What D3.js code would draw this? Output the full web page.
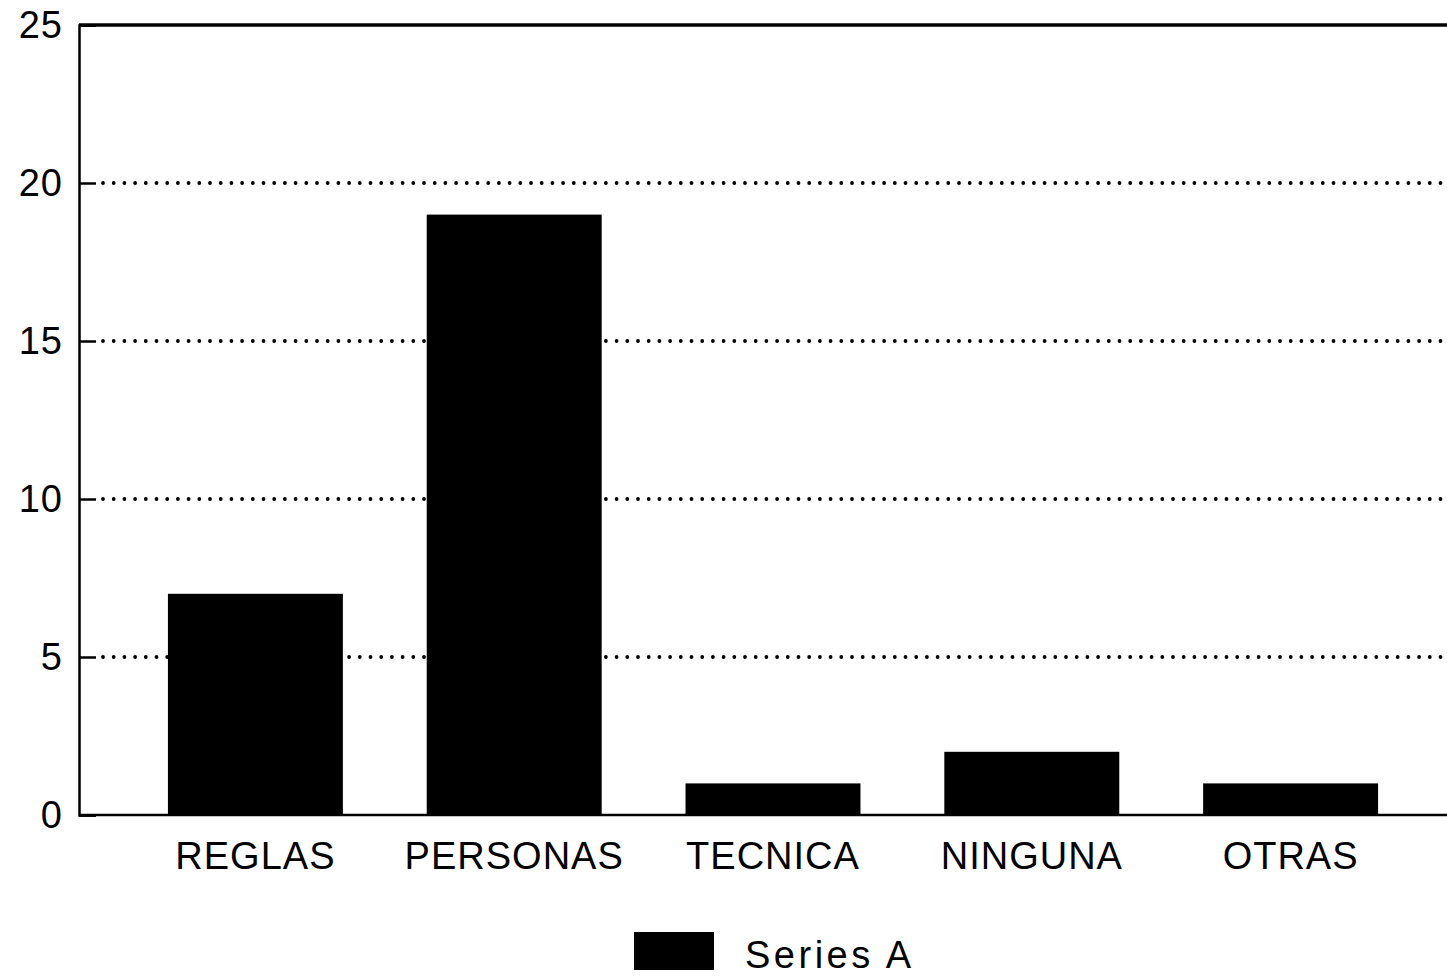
<!DOCTYPE html>
<meta charset="utf-8">
<html>
<head>
<title>Series A</title>
<style>
body { margin: 0; background: #fff; }
svg { display: block; }
.axis text { font-family: "Liberation Sans", Arial, sans-serif; font-size: 38px; fill: #000; letter-spacing: 1px; }
.axis path, .axis line { stroke: #000; }
.grid line { stroke: #000; stroke-width: 3.8; stroke-linecap: round; stroke-dasharray: 0,10.7; }
.legend text { font-family: "Liberation Sans", Arial, sans-serif; font-size: 38px; letter-spacing: 3.5px; }
</style>
</head>
<body>
<svg width="1447" height="977"></svg>
<script src="https://d3js.org/d3.v7.min.js"></script>
<script>

// data
var categories = ["REGLAS", "PERSONAS", "TECNICA", "NINGUNA", "OTRAS"];
var seriesA = [7, 19, 1, 2, 1];
var yTicks = [0, 5, 10, 15, 20, 25];
var seriesName = "Series A";

var svg = d3.select("svg"),
    plotLeft = 79, plotTop = 25, plotBottom = 815, plotRight = 1447;

var y = d3.scaleLinear().domain([0, 25]).range([plotBottom, plotTop]);

var x = d3.scaleBand()
    .domain(categories)
    .range([126, 1420])
    .paddingInner(0.324)
    .paddingOuter(0.162);

// dotted grid, starting past the inner tick
svg.append("g")
    .attr("class", "grid")
  .selectAll("line")
  .data(yTicks.filter(function(d) { return d > 0 && d < 25; }))
  .enter().append("line")
    .attr("x1", plotLeft + 24)
    .attr("x2", plotRight + 10)
    .attr("y1", function(d) { return y(d); })
    .attr("y2", function(d) { return y(d); });

// bars
svg.append("g")
  .selectAll("rect")
  .data(seriesA)
  .enter().append("rect")
    .attr("x", function(d, i) { return x(categories[i]); })
    .attr("width", x.bandwidth())
    .attr("y", function(d) { return y(d); })
    .attr("height", function(d) { return y(0) - y(d); })
    .attr("fill", "#000");

// top frame line
svg.append("line")
    .attr("x1", plotLeft).attr("x2", plotRight)
    .attr("y1", y(25)).attr("y2", y(25))
    .attr("stroke", "#000").attr("stroke-width", 3.5);

// left axis, ticks pointing inward
var yAxis = svg.append("g")
    .attr("class", "axis")
    .attr("transform", "translate(" + plotLeft + ",0)")
    .call(d3.axisLeft(y).tickValues(yTicks).tickSize(-17).tickPadding(16));
yAxis.select(".domain").attr("stroke-width", 2.5);
yAxis.selectAll(".tick line").attr("stroke-width", 2.5);

// baseline + category labels
var xAxis = svg.append("g")
    .attr("class", "axis")
    .attr("transform", "translate(0," + plotBottom + ")")
    .call(d3.axisBottom(x).tickSize(0).tickPadding(27));
xAxis.select(".domain").remove();
svg.append("line")
    .attr("x1", plotLeft).attr("x2", plotRight)
    .attr("y1", plotBottom).attr("y2", plotBottom)
    .attr("stroke", "#000").attr("stroke-width", 2.5);

// legend
var legend = svg.append("g").attr("class", "legend");
legend.append("rect")
    .attr("x", 634).attr("y", 932)
    .attr("width", 80).attr("height", 38)
    .attr("fill", "#000");
legend.append("text")
    .attr("x", 745).attr("y", 968)
    .text(seriesName);

</script>
</body>
</html>
